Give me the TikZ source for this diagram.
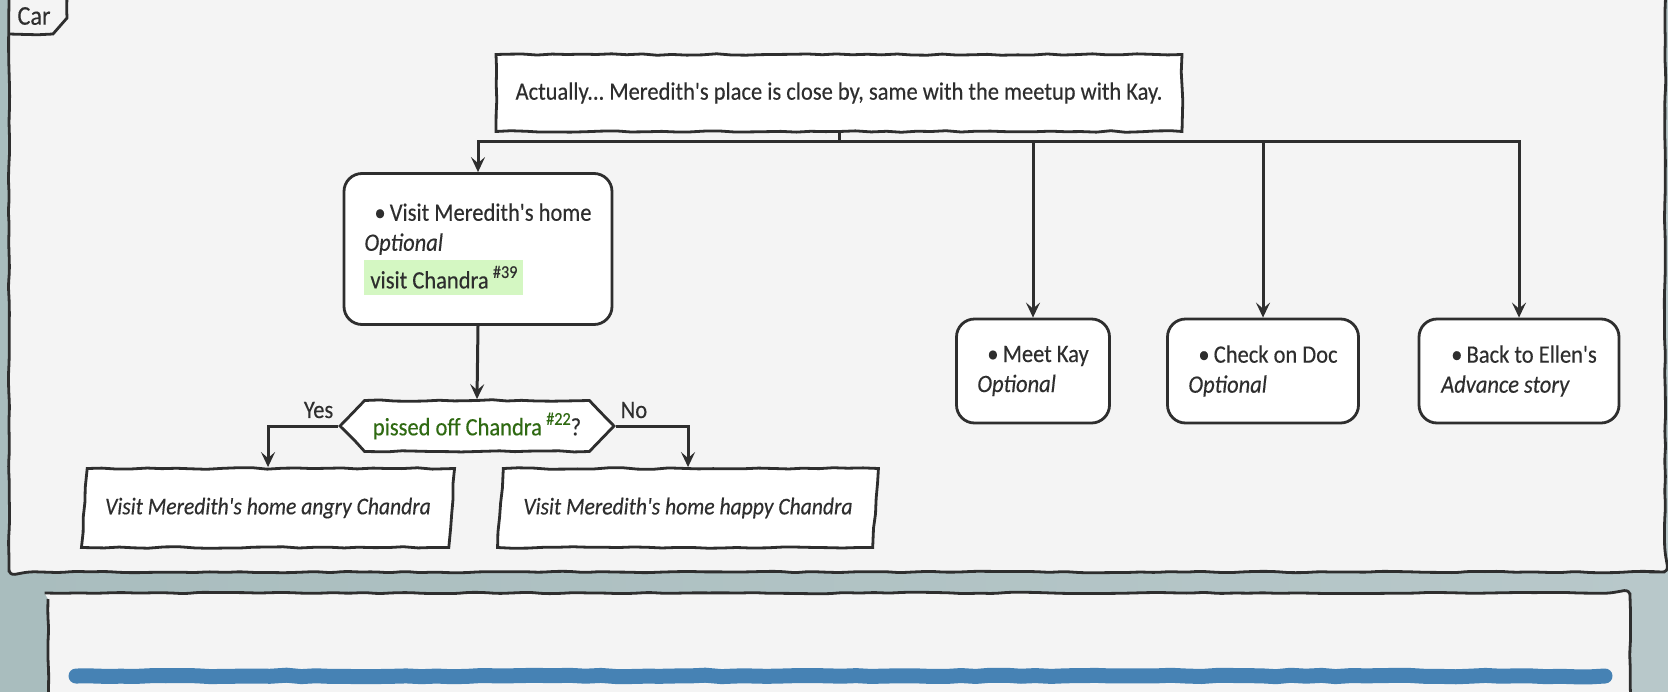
\documentclass[tikz,border=0pt]{standalone}
\usepackage{fontspec}
\setmainfont{Carlito}[FakeStretch=0.9,FakeBold=0.3,Ligatures=TeXOff]
\usetikzlibrary{arrows.meta,shapes.geometric,shapes.symbols,decorations.pathmorphing}

\definecolor{ink}{HTML}{2E2E2E}
\definecolor{paper}{HTML}{F4F4F4}
\definecolor{hilite}{HTML}{D4F7C2}
\definecolor{guard}{HTML}{2F6A12}
\definecolor{stripe}{HTML}{4682B4}
\definecolor{photoA}{HTML}{A9BDBE}
\definecolor{photoB}{HTML}{D3D6D4}
\definecolor{photoC}{HTML}{B8C8CA}

\newcommand{\issue}[1]{\,\raisebox{0.42em}{\fontsize{18}{18}\selectfont\##1}}

\begin{document}
\frenchspacing
\setlength{\fboxsep}{6pt}
\pgfmathsetseed{11}
\begin{tikzpicture}[x=1pt,y=-1pt,
    sketch/.style={decorate,decoration={random steps,segment length=15pt,amplitude=0.8pt}},
    frame/.style={draw=ink,line width=2.8pt,fill=paper,sketch},
    box/.style={draw=ink,line width=2.8pt,fill=white,text=ink,
      font=\fontsize{25}{30}\selectfont,inner sep=0pt},
    activity/.style={box,rounded corners=18pt,align=left},
    note/.style={box,sketch},
    choicebox/.style={box,sketch,signal,signal to=west and east,signal pointer angle=92},
    ending/.style={box,sketch,trapezium,trapezium left angle=76,trapezium right angle=104,
      trapezium stretches=true,font=\fontsize{24}{30}\selectfont\itshape},
    flow/.style={draw=ink,line width=3pt,-{Stealth[length=15pt,width=14pt,inset=6pt]}},
    link/.style={draw=ink,line width=3pt},
    branch/.style={text=ink,font=\fontsize{25}{28}\selectfont},
    tab/.style={text=ink,font=\fontsize{27}{30}\selectfont}]

  % --- the page and the blurred backdrop ---
  \useasboundingbox (0,0) rectangle (1668,691);
  \clip (0,0) rectangle (1668,691);
  \shade[left color=photoA,middle color=photoB,right color=photoC] (0,0) rectangle (1668,691);

  % --- the two frames ---
  \draw[frame,rounded corners=6pt] (9,-20) rectangle (1665,572);
  \draw[frame,rounded corners=6pt] (48,593) rectangle (1630,720);
  \draw[draw=ink,line width=2.8pt,sketch] (9,-5) -- (67,-5) -- (67,18) -- (53,34) -- (9,34);
  \node[tab] (car) at (34,16) {Car};
  \draw[stripe,line width=15pt,line cap=round,sketch] (76,676) -- (1605,676);

  % --- the steps ---
  \node[note,minimum width=686,minimum height=77] (intro) at (839,93)
    {Actually... Meredith's place is close by, same with the meetup with Kay.};
  \node[activity,minimum width=268,minimum height=151] (meredith) at (478,249)
    {\hspace*{10pt}\textbullet\,Visit Meredith's home\\ \textit{Optional}\\[4pt]
     \colorbox{hilite}{visit Chandra\issue{39}}};
  \node[choicebox,minimum width=274,minimum height=51] (choice) at (477,426)
    {\textcolor{guard}{pissed off Chandra\issue{22}}?};
  \node[ending,minimum width=375,minimum height=79] (angry) at (268,508)
    {Visit Meredith's home angry Chandra};
  \node[ending,minimum width=381,minimum height=79] (happy) at (688,508)
    {Visit Meredith's home happy Chandra};
  \node[activity,minimum width=153,minimum height=104] (kay) at (1033,371)
    {\hspace*{10pt}\textbullet\,Meet Kay\\ \textit{Optional}};
  \node[activity,minimum width=191,minimum height=104] (doc) at (1263,371)
    {\hspace*{10pt}\textbullet\,Check on Doc\\ \textit{Optional}};
  \node[activity,minimum width=200,minimum height=104] (ellen) at (1519,371)
    {\hspace*{10pt}\textbullet\,Back to Ellen's\\ \textit{Advance story}};

  % --- the fork under the first note ---
  \coordinate (fork) at (839,141);
  \draw[link] (intro.south) -- (fork);
  \foreach \step in {meredith,kay,doc,ellen}
    \draw[flow] (fork) -| (\step.north);

  % --- the check and its two ends ---
  \draw[flow] (meredith.south) -- (choice.north);
  \draw[flow] (choice.west) node[branch,anchor=south east,yshift=3pt]{Yes} -| (angry.north);
  \draw[flow] (choice.east) node[branch,anchor=south west,yshift=3pt]{No} -| (happy.north);
\end{tikzpicture}
\end{document}
